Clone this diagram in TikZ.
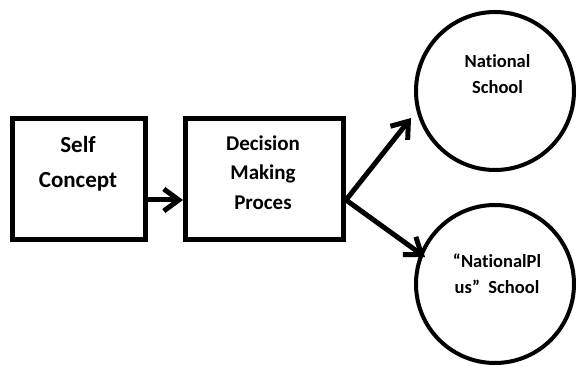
\documentclass[tikz,border=0pt]{standalone}
\usepackage{fontspec}
\setmainfont{Carlito}[Ligatures=NoCommon]
\usetikzlibrary{arrows.meta}
\begin{document}
\begin{tikzpicture}[x=1pt,y=-1pt,
  boxnode/.style={draw,line width=5pt,inner sep=0pt,minimum width=133pt,minimum height=121pt},
  circnode/.style={draw,circle,line width=4pt,inner sep=0pt,minimum size=158pt},
  lbl/.style={anchor=base,inner sep=0pt},
  arr/.style={line width=5pt,-{Straight Barb[length=15pt,width=22pt]}}]
\useasboundingbox (0,0) rectangle (578,366);
\node[boxnode] (b1) at (79,179) {};
\node[boxnode,minimum width=158pt] (b2) at (264.5,179) {};
\node[circnode] (c1) at (495,91) {};
\node[circnode] (c2) at (495,284) {};
% texts
\node[lbl,font=\fontsize{23}{23}\selectfont\bfseries] (t1a) at (78,153) {Self};
\node[lbl,font=\fontsize{23}{23}\selectfont\bfseries] (t1b) at (78,188) {Concept};
\node[lbl,font=\fontsize{21}{21}\selectfont\bfseries] (t2a) at (263,151) {Decision};
\node[lbl,font=\fontsize{21}{21}\selectfont\bfseries] (t2b) at (263,180) {Making};
\node[lbl,font=\fontsize{21}{21}\selectfont\bfseries] (t2c) at (263,209) {Proces};
\node[lbl,font=\fontsize{18.5}{18.5}\selectfont\bfseries] (t3a) at (497.5,68) {National};
\node[lbl,font=\fontsize{18.5}{18.5}\selectfont\bfseries] (t3b) at (497.5,94) {School};
\node[lbl,font=\fontsize{18.5}{18.5}\selectfont\bfseries] (t4a) at (497,267) {“NationalPl};
\node[lbl,font=\fontsize{18.5}{18.5}\selectfont\bfseries] (t4b) at (497,293) {us”\ \ School};
% connectors
\draw[arr] ([yshift=-21pt]b1.east) -- ([yshift=-21pt]b2.west);
\draw[arr] ([yshift=-21pt]b2.east) -- ([xshift=-3pt,yshift=-27pt]c1.west);
\draw[arr] ([yshift=-21pt]b2.east) -- ([xshift=11pt,yshift=27pt]c2.west);
\end{tikzpicture}
\end{document}
